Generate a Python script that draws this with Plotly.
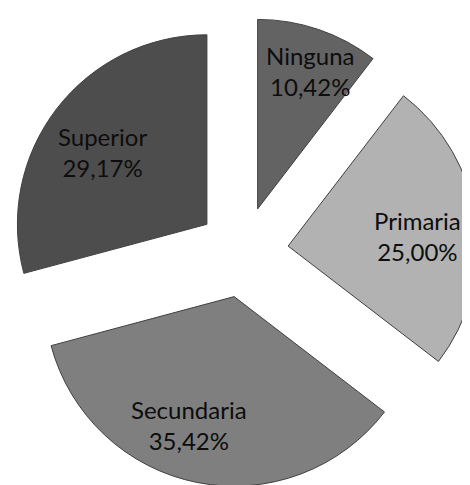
import plotly.graph_objects as go
import numpy as np

labels = ["Ninguna", "Primaria", "Secundaria", "Superior"]
values = [10.42, 25.00, 35.42, 29.17]
colors = ["#636363", "#b2b2b2", "#7f7f7f", "#4d4d4d"]

W, H = 470, 488
pull = 0.24
# small pixel nudges so labels land where Excel put them
nudge = [(10, -14), (0, 7), (-20, 0), (-1, 7)]

fig = go.Figure(go.Pie(
    labels=labels,
    values=values,
    sort=False,
    direction="clockwise",
    rotation=0,
    pull=pull,
    marker=dict(colors=colors, line=dict(color="#404040", width=1)),
    textinfo="none",
    hoverinfo="label+percent",
    showlegend=False,
))

# labels ~0.69 r out along each slice's bisector
r = min(W, H) / (2 + 2 * pull)
cx, cy = W / 2, H / 2
frac = np.array(values) / sum(values)
mid = np.cumsum(frac) - frac / 2
for lab, v, m, (dx, dy) in zip(labels, values, mid, nudge):
    th = 2 * np.pi * m
    d = r * (pull + 0.69)
    px = cx + d * np.sin(th) + dx
    py = cy - d * np.cos(th) + dy
    fig.add_annotation(
        x=px / W, y=1 - py / H, xref="paper", yref="paper",
        xanchor="center", yanchor="middle",
        text=f"{lab}<br>{v:.2f}%".replace(".", ","),
        showarrow=False, font=dict(family="Lato", size=24, color="#0d0d0d"),
    )

fig.update_layout(
    width=W,
    height=H,
    autosize=False,
    margin=dict(l=0, r=0, t=0, b=0),
    paper_bgcolor="white",
)

fig.write_html("out.html")
